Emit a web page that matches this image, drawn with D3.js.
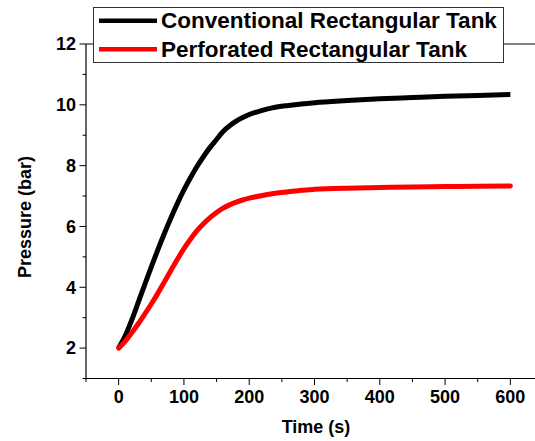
<!DOCTYPE html>
<html>
<head>
<meta charset="utf-8">
<script src="https://cdn.jsdelivr.net/npm/d3@7"></script>
<style>
  body { margin: 0; background: #fff; }
  text { font-family: Arial, "Liberation Sans", sans-serif; font-weight: bold; }
</style>
</head>
<body>
<div id="chart"></div>
<script>
// time points (s)
const timeSec = [0, 10, 20, 30, 40, 50, 60, 70, 80, 90, 100, 110, 120, 130, 140, 150, 160, 170, 180, 190, 200,
  220, 240, 260, 280, 300, 350, 400, 450, 500, 550, 600];
// pressure (bar)
const conventional = [2.0, 2.4, 2.92, 3.5, 4.09, 4.67, 5.23, 5.77, 6.28, 6.76, 7.2, 7.6, 7.97, 8.3, 8.6, 8.86, 9.12, 9.31, 9.46, 9.58, 9.68,
  9.82, 9.92, 9.98, 10.03, 10.07, 10.14, 10.2, 10.24, 10.28, 10.31, 10.34];
const perforated = [2.0, 2.22, 2.5, 2.8, 3.12, 3.45, 3.8, 4.17, 4.55, 4.92, 5.27, 5.58, 5.86, 6.09, 6.29, 6.46, 6.6, 6.71, 6.8, 6.87, 6.93,
  7.02, 7.09, 7.14, 7.19, 7.22, 7.26, 7.28, 7.3, 7.31, 7.32, 7.33];
const seriesNames = ['Conventional Rectangular Tank', 'Perforated Rectangular Tank'];
const seriesColors = ['#000000', '#ff0000'];
const xTicks = [0, 100, 200, 300, 400, 500, 600];
const yTicks = [2, 4, 6, 8, 10, 12];

const width = 535, height = 441;
const svg = d3.select('#chart').append('svg')
  .attr('width', width)
  .attr('height', height);

const x = d3.scaleLinear().domain([-50, 650]).range([86, 543]);
const y = d3.scaleLinear().domain([1, 12]).range([378.5, 44]);

// frame (top line, right side falls outside the picture)
svg.append('line')
  .attr('x1', x(-50)).attr('x2', x(650))
  .attr('y1', y(12)).attr('y2', y(12))
  .attr('stroke', '#000').attr('stroke-width', 1);

// x axis
const xAxis = svg.append('g').attr('transform', `translate(0,${y(1)})`);
xAxis.append('line').attr('x1', x(-50)).attr('x2', x(650)).attr('stroke', '#000').attr('stroke-width', 1.2);
xAxis.selectAll('.minor').data(d3.range(-50, 651, 100)).enter().append('line')
  .attr('x1', d => x(d)).attr('x2', d => x(d)).attr('y1', 0).attr('y2', 3.5)
  .attr('stroke', '#000').attr('stroke-width', 1);
xAxis.selectAll('.major').data(xTicks).enter().append('line')
  .attr('x1', d => x(d)).attr('x2', d => x(d)).attr('y1', 0).attr('y2', 6.5)
  .attr('stroke', '#000').attr('stroke-width', 1);
xAxis.selectAll('.lbl').data(xTicks).enter().append('text')
  .attr('x', d => x(d)).attr('y', 24.5)
  .attr('text-anchor', 'middle')
  .style('font-size', '18px')
  .text(d => d);

// y axis
const yAxis = svg.append('g').attr('transform', `translate(${x(-50)},0)`);
yAxis.append('line').attr('y1', y(1)).attr('y2', y(12)).attr('stroke', '#000').attr('stroke-width', 1.2);
yAxis.selectAll('.minor').data(d3.range(1, 12, 2)).enter().append('line')
  .attr('y1', d => y(d)).attr('y2', d => y(d)).attr('x1', 0).attr('x2', -3.5)
  .attr('stroke', '#000').attr('stroke-width', 1);
yAxis.selectAll('.major').data(yTicks).enter().append('line')
  .attr('y1', d => y(d)).attr('y2', d => y(d)).attr('x1', 0).attr('x2', -6.5)
  .attr('stroke', '#000').attr('stroke-width', 1);
yAxis.selectAll('.lbl').data(yTicks).enter().append('text')
  .attr('x', -10).attr('y', d => y(d) + 6.3)
  .attr('text-anchor', 'end')
  .style('font-size', '18px')
  .text(d => d);

// axis titles
svg.append('text')
  .attr('x', 316).attr('y', 433)
  .attr('text-anchor', 'middle')
  .style('font-size', '18px')
  .text('Time (s)');
svg.append('text')
  .attr('transform', 'translate(31,217) rotate(-90)')
  .attr('text-anchor', 'middle')
  .style('font-size', '18px')
  .text('Pressure (bar)');

// curves
const line = d3.line()
  .x((d, i) => x(timeSec[i]))
  .y(d => y(d))
  .curve(d3.curveMonotoneX);

[conventional, perforated].forEach((vals, k) => {
  svg.append('path')
    .datum(vals)
    .attr('d', line)
    .attr('fill', 'none')
    .attr('stroke', seriesColors[k])
    .attr('stroke-width', 5)
    .attr('stroke-linecap', k === 1 ? 'round' : 'butt')
    .attr('stroke-linejoin', 'round');
});

// legend
const legend = svg.append('g');
legend.append('rect')
  .attr('x', 93.5).attr('y', 7.5)
  .attr('width', 410).attr('height', 55)
  .attr('fill', '#fff')
  .attr('stroke', '#333').attr('stroke-width', 1);
const legendY = [20.7, 49.3];
seriesNames.forEach((name, k) => {
  legend.append('line')
    .attr('x1', 99).attr('x2', 157)
    .attr('y1', legendY[k]).attr('y2', legendY[k])
    .attr('stroke', seriesColors[k]).attr('stroke-width', 4.5);
  legend.append('text')
    .attr('x', 161).attr('y', legendY[k] + 7.5)
    .style('font-size', '22.5px')
    .text(name);
});
</script>
</body>
</html>
